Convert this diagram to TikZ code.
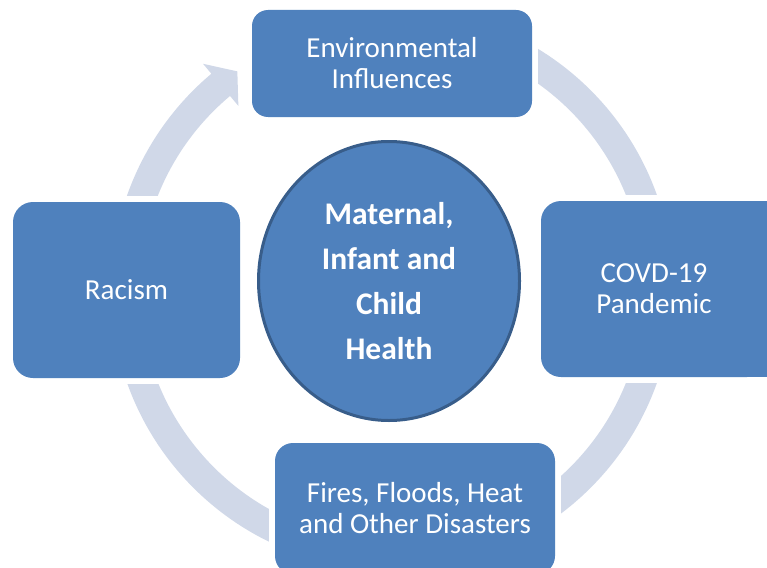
\documentclass[tikz,border=0pt]{standalone}
\usepackage{fontspec}
\setmainfont{Carlito}
\usetikzlibrary{shapes.geometric}
\definecolor{boxblue}{RGB}{79,129,189}
\definecolor{ringgray}{RGB}{208,216,232}
\definecolor{ellborder}{RGB}{56,93,138}
\begin{document}
\begin{tikzpicture}[x=1pt,y=-1pt,
  blockbox/.style={fill=boxblue, rectangle, inner sep=0pt, text=white, align=center,
    font=\fontsize{29}{31}\selectfont},
  mask/.style={fill=white},
  ringshape/.style={fill=ringgray}]
\useasboundingbox (0,0) rectangle (767,567);
\clip (0,0) rectangle (767,567);
% circular arrow behind the blocks
\fill[ringshape, shift={(392,289)}]
  (-90:281) arc[start angle=-90, end angle=230, radius=281]
  -- (230:294) -- (234.6:267) -- (230:239) -- (230:252)
  arc[start angle=230, end angle=-90, radius=252] -- cycle;
% gaps around the blocks
\fill[mask] (246,4) rectangle (538,123);
\fill[mask] (535,195) rectangle (800,383);
\fill[mask] (7,196) rectangle (246,384);
\fill[mask] (269,437) rectangle (561,590);
% blocks
\node[blockbox, rounded corners=16pt, minimum width=280pt, minimum height=107pt]
  (env) at (392,63.5) {Environmental\\Influences};
\fill[boxblue] (700,201) rectangle (800,377);
\node[blockbox, rounded corners=20pt, minimum width=226pt, minimum height=176pt]
  (covid) at (654,289) {COVD-19\\Pandemic};
\node[blockbox, rounded corners=20pt, minimum width=227pt, minimum height=176pt]
  (racism) at (126.5,290) {Racism};
\node[blockbox, rounded corners=18pt, minimum width=280pt, minimum height=131pt]
  (disasters) at (415,508.5) {Fires, Floods, Heat\\and Other Disasters};
% centre
\node[ellipse, fill=boxblue, draw=ellborder, line width=3pt, minimum width=261pt,
  minimum height=279pt, inner sep=0pt, text=white, align=center,
  font=\fontsize{31.5}{45}\selectfont\bfseries]
  (mich) at (389,281) {Maternal,\\Infant and\\Child\\Health};
\end{tikzpicture}
\end{document}
